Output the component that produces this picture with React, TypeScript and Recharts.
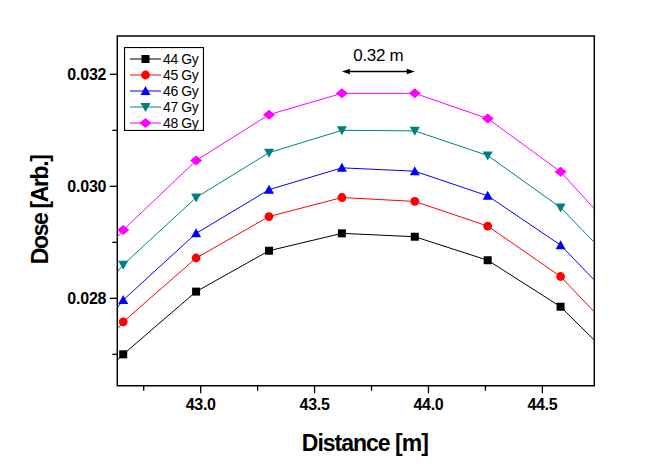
import { LineChart, Line, XAxis, YAxis, Legend, ReferenceArea, ReferenceLine } from "recharts";

// distance along the beam line [m]; first and last points fall outside the frame
const distance = [42.34, 42.66, 42.98, 43.3, 43.62, 43.94, 44.26, 44.58, 44.9];
const dose44 = [0.02571, 0.027, 0.02812, 0.02885, 0.02916, 0.0291, 0.02868, 0.02785, 0.02656];
const dose45 = [0.02597, 0.02758, 0.02872, 0.02946, 0.0298, 0.02973, 0.02929, 0.02839, 0.02702];
const dose46 = [0.02629, 0.02797, 0.02916, 0.02994, 0.03033, 0.03027, 0.02983, 0.02895, 0.0276];
const dose47 = [0.02698, 0.0286, 0.0298, 0.0306, 0.031, 0.03099, 0.03055, 0.02962, 0.02828];
const dose48 = [0.02768, 0.02922, 0.03046, 0.03128, 0.03166, 0.03166, 0.03121, 0.03026, 0.02883];

const xTicks = [42.75, 43.0, 43.25, 43.5, 43.75, 44.0, 44.25, 44.5];
const yTicks = [0.027, 0.028, 0.029, 0.03, 0.031, 0.032];
const xDomain = [42.634, 44.728];
const yDomain = [0.02644, 0.032684];

const spanFrom = 43.62;
const spanTo = 43.94;
const spanDose = 0.03205;
const spanLabel = "0.32 m";

const series = [
  { key: "g44", name: "44 Gy", color: "#000000", shape: "square" },
  { key: "g45", name: "45 Gy", color: "#ff0000", shape: "circle" },
  { key: "g46", name: "46 Gy", color: "#0000ff", shape: "up" },
  { key: "g47", name: "47 Gy", color: "#008080", shape: "down" },
  { key: "g48", name: "48 Gy", color: "#ff00ff", shape: "diamond" },
];

const data = distance.map((x, i) => ({
  x,
  g44: dose44[i],
  g45: dose45[i],
  g46: dose46[i],
  g47: dose47[i],
  g48: dose48[i],
}));

const FONT = '"Liberation Sans", Arial, sans-serif';

function Marker({ cx, cy, shape, color }: any) {
  if (cx == null || cy == null) return null;
  switch (shape) {
    case "square":
      return <rect x={cx - 4} y={cy - 4} width={8} height={8} fill={color} />;
    case "circle":
      return <circle cx={cx} cy={cy} r={4.4} fill={color} />;
    case "up":
      return <polygon points={`${cx},${cy - 5} ${cx - 5},${cy + 4} ${cx + 5},${cy + 4}`} fill={color} />;
    case "down":
      return <polygon points={`${cx},${cy + 5} ${cx - 5},${cy - 4} ${cx + 5},${cy - 4}`} fill={color} />;
    default:
      return <polygon points={`${cx},${cy - 5} ${cx + 6},${cy} ${cx},${cy + 5} ${cx - 6},${cy}`} fill={color} />;
  }
}

function XTick({ x, y, payload }: any) {
  const v = payload.value;
  const major = Math.abs(v * 2 - Math.round(v * 2)) < 1e-6;
  return (
    <g>
      <line x1={x} x2={x} y1={y} y2={y + (major ? 7.5 : 5)} stroke="#000" strokeWidth={1.3} />
      {major && (
        <text x={x} y={y + 24} textAnchor="middle" fontFamily={FONT} fontWeight="bold" fontSize={16} letterSpacing={-0.3} fill="#000">
          {v.toFixed(1)}
        </text>
      )}
    </g>
  );
}

function YTick({ x, y, payload }: any) {
  const v = payload.value;
  const major = Math.round(v * 1000) % 2 === 0;
  return (
    <g>
      <line x1={x - (major ? 7.5 : 5)} x2={x} y1={y} y2={y} stroke="#000" strokeWidth={1.3} />
      {major && (
        <text x={x - 11} y={y} dy={5.8} textAnchor="end" fontFamily={FONT} fontWeight="bold" fontSize={16} letterSpacing={-0.2} fill="#000">
          {v.toFixed(3)}
        </text>
      )}
    </g>
  );
}

function YTitle({ viewBox }: any) {
  const cx = (viewBox?.x ?? 0) + 40;
  const cy = (viewBox?.y ?? 36) + (viewBox?.height ?? 350) / 2 - 1;
  return (
    <text x={cx} y={cy} transform={`rotate(-90, ${cx}, ${cy})`} textAnchor="middle" dominantBaseline="central"
      fontFamily={FONT} fontWeight="bold" fontSize={23} letterSpacing={-1.4} fill="#000">
      Dose [Arb.]
    </text>
  );
}

function XTitle({ viewBox }: any) {
  const cx = (viewBox?.x ?? 117) + (viewBox?.width ?? 477) / 2 + 9;
  const cy = (viewBox?.y ?? 386) + 65;
  return (
    <text x={cx} y={cy} textAnchor="middle" fontFamily={FONT} fontWeight="bold" fontSize={23} letterSpacing={-1} fill="#000">
      Distance [m]
    </text>
  );
}

function SpanArrow({ x1, y1, x2 }: any) {
  if (x1 == null) return null;
  const y = y1;
  return (
    <g>
      <line x1={x1 + 4} x2={x2 - 4} y1={y} y2={y} stroke="#000" strokeWidth={1.3} />
      <polygon points={`${x1},${y} ${x1 + 8},${y - 2.8} ${x1 + 8},${y + 2.8}`} fill="#000" />
      <polygon points={`${x2},${y} ${x2 - 8},${y - 2.8} ${x2 - 8},${y + 2.8}`} fill="#000" />
      <text x={(x1 + x2) / 2} y={y - 11} textAnchor="middle" fontFamily={FONT} fontSize={17} letterSpacing={-0.3} fill="#000">
        {spanLabel}
      </text>
    </g>
  );
}

function LegendBox() {
  return (
    <svg width={80} height={84} style={{ display: "block" }}>
      <rect x={0.5} y={0.5} width={79} height={83} fill="#fff" stroke="#000" strokeWidth={1.2} />
      {series.map((s, i) => {
        const cy = 12 + i * 16;
        return (
          <g key={s.key}>
            <line x1={6} x2={37} y1={cy} y2={cy} stroke={s.color} strokeWidth={1} />
            <Marker cx={21.5} cy={cy} shape={s.shape} color={s.color} />
            <text x={39} y={cy + 5} fontFamily={FONT} fontSize={14} letterSpacing={-0.4} fill="#000">
              {s.name}
            </text>
          </g>
        );
      })}
    </svg>
  );
}

export default function App() {
  return (
    <div style={{ position: "absolute", left: 0, top: 0, background: "#fff" }}>
      <LineChart width={653} height={470} data={data} margin={{ top: 36, right: 58.7, bottom: 0, left: 0 }}>
        <XAxis
          type="number"
          dataKey="x"
          domain={xDomain}
          allowDataOverflow
          ticks={xTicks}
          interval={0}
          height={84.3}
          axisLine={false}
          tickLine={false}
          tickSize={0}
          tickMargin={0}
          tick={<XTick />}
          label={<XTitle />}
        />
        <YAxis
          type="number"
          domain={yDomain}
          allowDataOverflow
          ticks={yTicks}
          interval={0}
          width={117.3}
          axisLine={false}
          tickLine={false}
          tickSize={0}
          tickMargin={0}
          tick={<YTick />}
          label={<YTitle />}
        />
        <Legend
          layout="vertical"
          align="center"
          verticalAlign="middle"
          wrapperStyle={{ left: 124, top: 47, width: 80, height: 84 }}
          content={() => <LegendBox />}
        />
        {series.map((s) => (
          <Line
            key={s.key}
            type="linear"
            dataKey={s.key}
            name={s.name}
            stroke={s.color}
            strokeWidth={1}
            isAnimationActive={false}
            dot={(p: any) => <Marker key={`${s.key}-${p.index}`} cx={p.cx} cy={p.cy} shape={s.shape} color={s.color} />}
            activeDot={false}
          />
        ))}
        <ReferenceLine
          segment={[{ x: spanFrom, y: spanDose }, { x: spanTo, y: spanDose }]}
          shape={<SpanArrow />}
        />
        <ReferenceArea x1={xDomain[0]} x2={xDomain[1]} y1={yDomain[0]} y2={yDomain[1]} fill="none" stroke="#000" strokeWidth={1.5} />
      </LineChart>
    </div>
  );
}
